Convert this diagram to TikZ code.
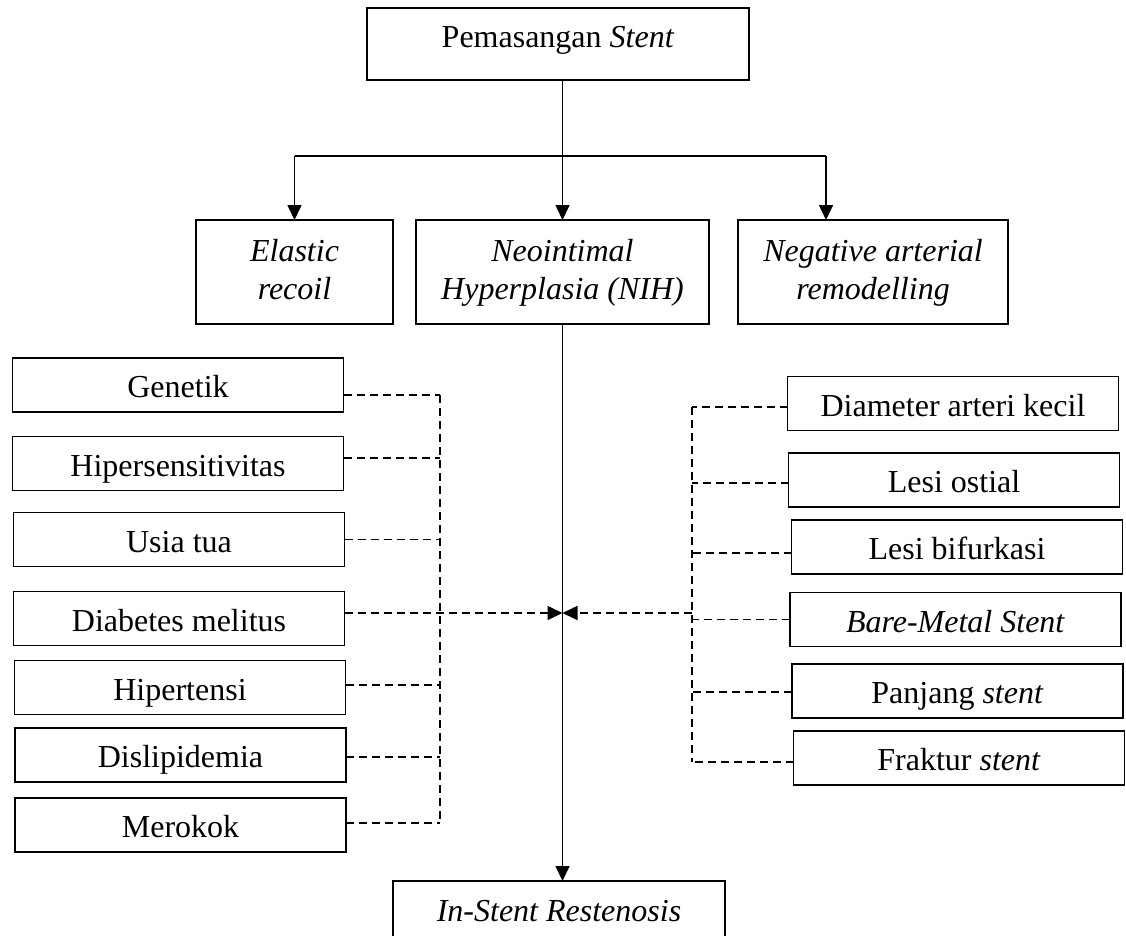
\documentclass[tikz,border=0pt]{standalone}
\usepackage{fontspec}
\setmainfont{Liberation Serif}
\usetikzlibrary{arrows.meta}
\newcommand\twolines[2]{\begin{tabular}[t]{@{}c@{}}#1\\#2\end{tabular}}
\begin{document}
\begin{tikzpicture}[x=1pt,y=-1pt,
  box/.style={draw, line width=1.4pt, inner sep=0pt, outer sep=0pt,
    font=\fontsize{32}{38}\selectfont, text height=25pt, text depth=0pt,
    minimum height=54pt},
  lbox/.style={box, minimum width=331pt},
  tbox/.style={box, text height=23pt, text depth=45pt, minimum height=104pt},
  conn/.style={line width=1.6pt},
  arr/.style={-{Triangle[length=15pt,width=14pt]}},
  dsh/.style={conn, dash pattern=on 8pt off 5pt}]
\useasboundingbox (0,0) rectangle (1126,936);
\clip (0,0) rectangle (1126,936);

% top
\node[box, minimum width=382pt, minimum height=72pt, text height=26pt, text depth=18pt] (top) at (558,44) {Pemasangan \textit{Stent}};

% middle row
\node[tbox, minimum width=197pt] (el) at (294.5,272) {\twolines{\textit{Elastic}}{\textit{recoil}}};
\node[tbox, minimum width=293pt] (nih) at (562.5,272) {\twolines{\textit{Neointimal}}{\textit{Hyperplasia (NIH)}}};
\node[tbox, minimum width=270pt] (ng) at (873,272) {\twolines{\textit{Negative arterial}}{\textit{remodelling}}};

% left factors
\node[lbox] (g)  at (178,385)   {Genetik};
\node[lbox] (hs) at (178,463.5) {Hipersensitivitas};
\node[lbox] (ut) at (179,539.5) {Usia tua};
\node[lbox] (dm) at (179,618.5) {Diabetes melitus};
\node[lbox] (ht) at (180,687.5) {Hipertensi};
\node[lbox] (dl) at (180.5,755) {Dislipidemia};
\node[lbox] (mr) at (180.5,825) {Merokok};

% right factors
\node[lbox] (da) at (953,403.5) {Diameter arteri kecil};
\node[lbox] (lo) at (954,480)   {Lesi ostial};
\node[lbox] (lb) at (957,547)   {Lesi bifurkasi};
\node[lbox] (bm) at (955.5,619.5) {\textit{Bare}-\textit{Metal Stent}};
\node[lbox] (ps) at (957.5,691) {Panjang \textit{stent}};
\node[lbox] (fs) at (959,758)   {Fraktur \textit{stent}};

% bottom
\node[box, minimum width=332pt, minimum height=56pt] (isr) at (559,909) {\textit{In-Stent Restenosis}};

% top connectors
\coordinate (jl) at (294.5,156);
\coordinate (jr) at (826,156);
\draw[conn] (jl) -- (jr);
\draw[conn,arr] (jl) -- (el.north);
\draw[conn,arr] (jr) -- (jr |- ng.north);
\draw[conn,arr] (nih.north |- top.south) -- (nih.north);
\draw[conn,arr] (nih.south) -- (nih.south |- isr.north);

% left dashed tree
\coordinate (lv1) at (440,395);
\coordinate (lv2) at (440,823);
\draw[dsh] (lv1) -- (lv2);
\draw[dsh] ([yshift=-10pt]g.east) coordinate (a1) -- (a1 -| lv1);
\draw[dsh] ([yshift=5.5pt]hs.east) coordinate (a2) -- (a2 -| lv1);
\draw[dsh] (ut.east) -- (ut.east -| lv1);
\draw[dsh,arr] ([yshift=5.5pt]dm.east) coordinate (a4) -- (a4 -| nih.south);
\draw[dsh] ([yshift=2.5pt]ht.east) coordinate (a5) -- (a5 -| lv1);
\draw[dsh] ([yshift=-2pt]dl.east) coordinate (a6) -- (a6 -| lv1);
\draw[dsh] ([yshift=2pt]mr.east) coordinate (a7) -- (a7 -| lv1);

% right dashed tree
\coordinate (rv1) at (692,407);
\coordinate (rv2) at (692,762);
\coordinate (rm) at (692,613);
\draw[dsh] (rv1) -- (rv2);
\draw[dsh] ([yshift=-3.5pt]da.west) coordinate (b1) -- (b1 -| rv1);
\draw[dsh] ([yshift=-3pt]lo.west) coordinate (b2) -- (b2 -| rv1);
\draw[dsh] ([yshift=-6pt]lb.west) coordinate (b3) -- (b3 -| rv1);
\draw[dsh] (bm.west) -- (bm.west -| rv1);
\draw[dsh] ([yshift=-1pt]ps.west) coordinate (b5) -- (b5 -| rv1);
\draw[dsh] ([yshift=-4pt]fs.west) coordinate (b6) -- (b6 -| rv1);
\draw[dsh,arr] (rm) -- (rm -| nih.south);
\end{tikzpicture}
\end{document}
